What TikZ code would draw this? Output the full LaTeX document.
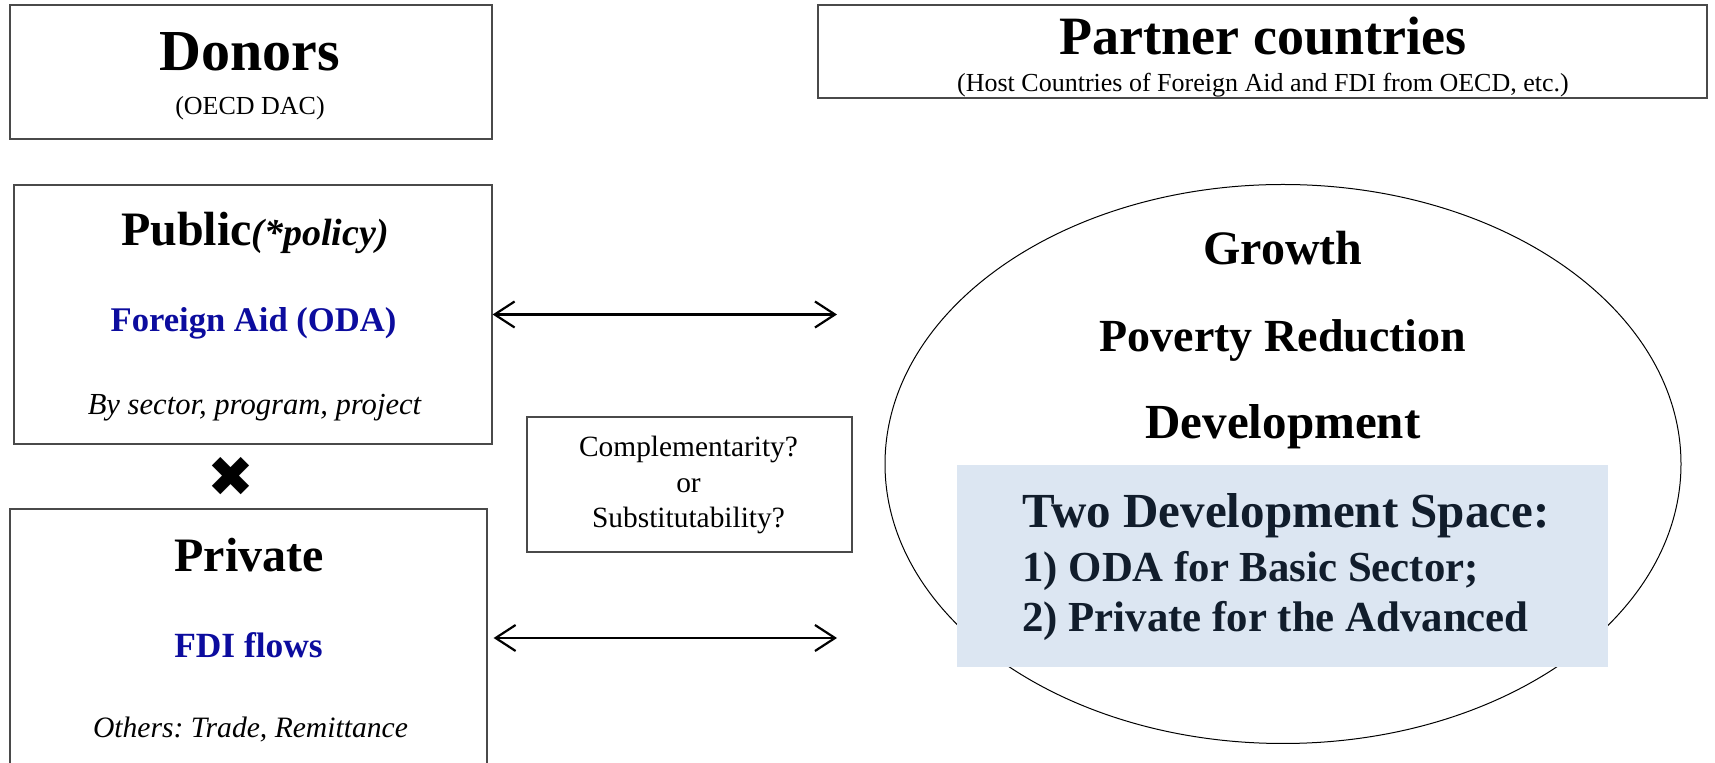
\documentclass[tikz,border=0pt]{standalone}
\usepackage{fontspec}
\setmainfont{Liberation Serif}
\newfontfamily\dejavu{DejaVu Sans}
\usetikzlibrary{arrows.meta,shapes.geometric}
\definecolor{boxline}{HTML}{4A4A4A}
\definecolor{odablue}{HTML}{0C0C9E}
\definecolor{navy}{HTML}{111D2C}
\definecolor{panel}{HTML}{DCE6F2}
\newcommand\setfs[1]{\fontsize{#1}{#1}\selectfont}
\frenchspacing
\begin{document}
\begin{tikzpicture}[x=0.5pt,y=-0.5pt,
  box/.style={draw=boxline,line width=0.6pt,inner sep=0pt,rectangle},
  txt/.style={inner sep=0pt,anchor=base},
  ltxt/.style={inner sep=0pt,anchor=base west,text=navy},
  arr/.style={{Straight Barb[length=10pt,width=13pt]}-{Straight Barb[length=10pt,width=13pt]},line width=1.1pt},
]
\useasboundingbox (0,0) rectangle (1715,763);
% boxes
\node[box,minimum width=241pt,minimum height=67pt] (donors) at (251,72) {};
\node[box,minimum width=444.5pt,minimum height=46.5pt] (partner) at (1262.5,51.5) {};
\node[box,minimum width=239pt,minimum height=129.5pt] (public) at (253,314.5) {};
\node[box,minimum width=238.5pt,minimum height=129pt] (private) at (248.5,638) {};
\node[box,minimum width=162.5pt,minimum height=67.5pt] (comp) at (689.5,484.5) {};
\node[draw=black,line width=0.5pt,ellipse,inner sep=0pt,minimum width=398pt,minimum height=279.5pt] (host) at (1283,464) {};
\node[fill=panel,inner sep=0pt,minimum width=325.5pt,minimum height=101pt] (panelbox) at (1282.5,566) {};
% texts
\node[txt] (donorsT) at (250,71) {\setfs{29}\bfseries Donors};
\node[txt] (donorsS) at (250,115) {\setfs{13}(OECD DAC)};
\node[txt] (partnerT) at (1263,55) {\setfs{27}\bfseries Partner countries};
\node[txt] (partnerS) at (1263,92) {\setfs{13}(Host Countries of Foreign Aid and FDI from OECD, etc.)};
\node[txt] (publicT) at (255,246) {\setfs{24}\bfseries Public{\setfs{19}\itshape(*policy)}};
\node[txt,text=odablue] (odaT) at (253.5,332) {\setfs{17.3}\bfseries Foreign Aid (ODA)};
\node[txt] (sectorT) at (254.5,415) {\setfs{15.3}\itshape By sector, program, project};
\node[inner sep=0pt] (cross) at (231,477) {\dejavu\setfs{28}✖};
\node[txt] (privateT) at (249,572) {\setfs{24}\bfseries Private};
\node[txt,text=odablue] (fdiT) at (248.5,658) {\setfs{17.7}\bfseries FDI flows};
\node[txt] (othersT) at (250.5,738) {\setfs{14.8}\itshape Others: Trade, Remittance};
\node[txt] (compA) at (688.5,457) {\setfs{14.7}Complementarity?};
\node[txt] (compB) at (688.5,493) {\setfs{14.7}or};
\node[txt] (compC) at (688.5,528) {\setfs{14.7}Substitutability?};
\node[txt] (growthT) at (1283,265) {\setfs{24}\bfseries Growth};
\node[txt] (povT) at (1283,352) {\setfs{23}\bfseries Poverty Reduction};
\node[txt] (devT) at (1283,439) {\setfs{24.5}\bfseries Development};
\node[ltxt] (twoT) at (1022,528) {\setfs{24.5}\bfseries Two Development Space:};
\node[ltxt] (oneT) at (1022,582) {\setfs{21.4}\bfseries 1) ODA for Basic Sector;};
\node[ltxt] (twoL) at (1022,632) {\setfs{21.4}\bfseries 2) Private for the Advanced};
% connectors
\coordinate (e1) at (837,315);
\coordinate (e2) at (837,638);
\draw[arr] (public.east) -- (public.east -| e1);
\draw[arr] ([xshift=3pt]private.east) -- (private.east -| e2);
\end{tikzpicture}
\end{document}
